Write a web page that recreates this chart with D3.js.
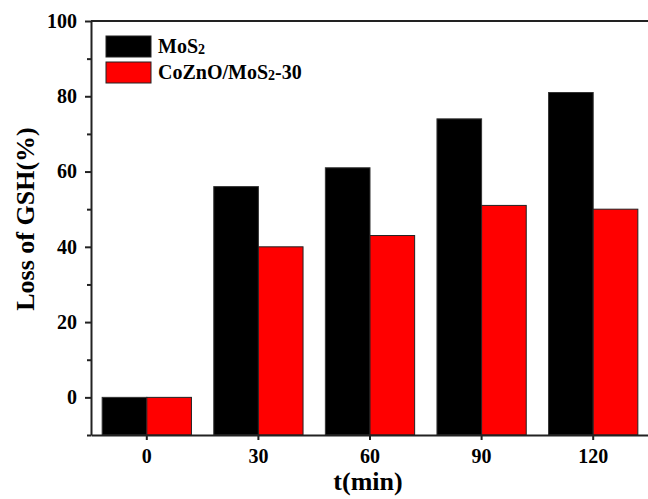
<!DOCTYPE html>
<html>
<head>
<meta charset="utf-8">
<script src="https://cdn.jsdelivr.net/npm/d3@7"></script>
<style>
  body { margin: 0; background: #fff; }
  text { font-family: "Liberation Serif", "Times New Roman", serif; font-weight: bold; }
</style>
</head>
<body>
<div id="chart"></div>
<script>
/* DATA */
const times = ["0", "30", "60", "90", "120"];
const mos2 = [0, 56, 61, 74, 81];
const cozno = [0, 40, 43, 51, 50];
const yTicks = [0, 20, 40, 60, 80, 100];
const yMinor = [-10, 10, 30, 50, 70, 90];

const width = 648, height = 499,
    m = { top: 21, bottom: 64, left: 91, right: -1 };

const svg = d3.select("#chart").append("svg")
    .attr("width", width)
    .attr("height", height);

const x = d3.scaleBand()
    .domain(times)
    .range([m.left, width - m.right])
    .padding(0);

const y = d3.scaleLinear()
    .domain([-10, 100])
    .range([height - m.bottom, m.top]);

const bw = x.bandwidth() * 0.4;

// bars
svg.selectAll(".bar-mos2")
    .data(mos2)
    .join("rect")
    .attr("class", "bar-mos2")
    .attr("x", (d, i) => x(times[i]) + x.bandwidth() / 2 - bw)
    .attr("y", d => y(d))
    .attr("width", bw)
    .attr("height", d => y(-10) - y(d))
    .attr("fill", "#000")
    .attr("stroke", "#333")
    .attr("stroke-width", 1);

svg.selectAll(".bar-co")
    .data(cozno)
    .join("rect")
    .attr("class", "bar-co")
    .attr("x", (d, i) => x(times[i]) + x.bandwidth() / 2)
    .attr("y", d => y(d))
    .attr("width", bw)
    .attr("height", d => y(-10) - y(d))
    .attr("fill", "#ff0000")
    .attr("stroke", "#222")
    .attr("stroke-width", 1);

// frame top
svg.append("line")
    .attr("x1", m.left).attr("x2", width - m.right)
    .attr("y1", m.top).attr("y2", m.top)
    .attr("stroke", "#222").attr("stroke-width", 2);

// y axis
svg.append("g")
    .attr("transform", `translate(${m.left},0)`)
    .call(d3.axisLeft(y).tickValues(yTicks).tickSize(6).tickPadding(8).tickSizeOuter(0));
svg.append("g")
    .attr("transform", `translate(${m.left},0)`)
    .call(d3.axisLeft(y).tickValues(yMinor).tickSize(4).tickFormat("").tickSizeOuter(0))
    .select(".domain").remove();

// x axis
svg.append("g")
    .attr("transform", `translate(0,${height - m.bottom})`)
    .call(d3.axisBottom(x).tickSize(5).tickPadding(9).tickSizeOuter(0));

svg.selectAll(".tick line").attr("stroke", "#222").attr("stroke-width", 2);
svg.selectAll(".domain").attr("stroke", "#222").attr("stroke-width", 2);
svg.selectAll(".tick text").attr("font-size", 20).attr("fill", "#000")
    .style("font-family", "'Liberation Serif', serif").style("font-weight", "bold");

// axis titles
svg.append("text")
    .attr("transform", `translate(25,219) rotate(-90)`)
    .attr("text-anchor", "middle")
    .attr("dy", "0.35em")
    .attr("font-size", 26)
    .text("Loss of GSH(%)");

svg.append("text")
    .attr("x", 368)
    .attr("y", 490)
    .attr("text-anchor", "middle")
    .attr("font-size", 26)
    .text("t(min)");

// legend
const legend = [
    { name: "MoS", sub: "2", tail: "", color: "#000" },
    { name: "CoZnO/MoS", sub: "2", tail: "-30", color: "#ff0000" }
];
const lg = svg.append("g").attr("transform", "translate(106,36)");
legend.forEach((d, i) => {
    const g = lg.append("g").attr("transform", `translate(0,${i * 26})`);
    g.append("rect")
        .attr("width", 45).attr("height", 21)
        .attr("fill", d.color).attr("stroke", "#222").attr("stroke-width", 1);
    const t = g.append("text")
        .attr("x", 52).attr("y", 17)
        .attr("font-size", 20);
    t.append("tspan").text(d.name);
    t.append("tspan").attr("font-size", 14).attr("dy", "1").text(d.sub);
    t.append("tspan").attr("dy", "-1").text(d.tail);
});
</script>
</body>
</html>
